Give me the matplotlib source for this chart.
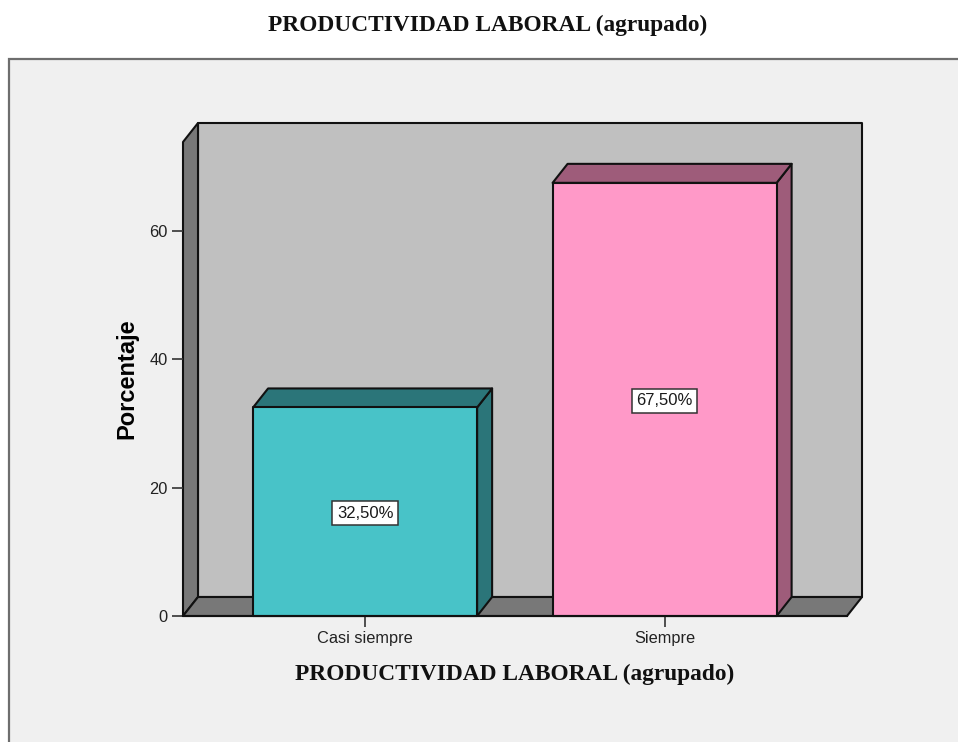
#!/usr/bin/python3

import matplotlib
matplotlib.use('Agg')
import matplotlib.pyplot as plt
from matplotlib.patches import Rectangle

categories = ["Casi siempre", "Siempre"]
values = [32.5, 67.5]
value_labels = ["32,50%", "67,50%"]
yticks = [0, 20, 40, 60]
title = "PRODUCTIVIDAD LABORAL (agrupado)"

face_colors = ["#48c3c8", "#ff99c8"]
dark_colors = ["#2b7579", "#9e5c7a"]
wall_color = "#c0c0c0"
side_color = "#787878"
edge = "#111111"

W, H = 958, 742
# front plane of the chart in pixels
left, right, bottom, top = 183, 847, 616, 142
dx_px, dy_px = 15, 19

fig = plt.figure(figsize=(W / 100, H / 100), dpi=100, facecolor="white")
fig.patches.append(Rectangle((9 / W, -0.01), 1.0, (H - 59) / H + 0.01,
                             transform=fig.transFigure, facecolor="#f0f0f0",
                             edgecolor="#6e6e6e", linewidth=1.6, zorder=-1))

ax = fig.add_axes([left / W, 1 - bottom / H, (right - left) / W, (bottom - top) / H])
ax.patch.set_visible(False)
ax.set_xlim(-0.608, 1.609)
ax.set_ylim(0, (bottom - top) / 6.417)
x0, x1 = ax.get_xlim()
y0, y1 = ax.get_ylim()

# depth offset in data units
dx = dx_px / (right - left) * (x1 - x0)
dy = dy_px / (bottom - top) * (y1 - y0)


def poly(xs, ys, color, z=1):
    ax.fill(xs, ys, facecolor=color, edgecolor=edge, linewidth=1.5,
            clip_on=False, zorder=z, joinstyle="round")


# walls and floor
poly([x0 + dx, x1 + dx, x1 + dx, x0 + dx], [dy, dy, y1 + dy, y1 + dy], wall_color)
poly([x0, x0 + dx, x0 + dx, x0], [0, dy, y1 + dy, y1], side_color)
poly([x0, x1, x1 + dx, x0 + dx], [0, 0, dy, dy], side_color)

# bars
bar_w = 0.748
for i, v in enumerate(values):
    a, b = i - bar_w / 2, i + bar_w / 2
    poly([b, b + dx, b + dx, b], [0, dy, v + dy, v], dark_colors[i], 3)
    poly([a, b, b + dx, a + dx], [v, v, v + dy, v + dy], dark_colors[i], 3)
    poly([a, b, b, a], [0, 0, v, v], face_colors[i], 4)
    ax.text(i, v / 2, value_labels[i], ha="center", va="center_baseline", fontsize=12,
            family="Liberation Sans", color="#1a1a1a", zorder=6,
            bbox=dict(boxstyle="square,pad=0.27", facecolor="white",
                      edgecolor="#333333", linewidth=1.1))

for s in ["top", "right", "left"]:
    ax.spines[s].set_visible(False)
ax.spines["bottom"].set_linewidth(1.5)
ax.spines["bottom"].set_color(edge)
ax.spines["bottom"].set_zorder(5)

ax.set_xticks(range(len(categories)))
ax.set_xticklabels(categories, family="Liberation Sans", fontsize=11.8, color="#222222")
ax.set_yticks(yticks)
ax.set_yticklabels([str(t) for t in yticks], family="Liberation Sans", fontsize=11.8, color="#222222")
ax.tick_params(axis="both", length=8, width=1.2, color="#333333", pad=3)

ax.set_ylabel("Porcentaje", family="Liberation Sans", fontweight="bold", fontsize=17, va="center")
ax.yaxis.set_label_coords((127 - left) / (right - left), (bottom - 379) / (bottom - top))
ax.set_xlabel(title, family="Liberation Serif", fontweight="bold", fontsize=16.8, color="#111111")
ax.xaxis.set_label_coords((515 - left) / (right - left), -(674 - bottom) / (bottom - top))
ax.xaxis.label.set_verticalalignment("center")

fig.text(488 / W, 1 - 25 / H, title, family="Liberation Serif", fontweight="bold",
         fontsize=16.8, color="#111111", ha="center", va="center")

fig.savefig("out.png", dpi=100, facecolor="white")
